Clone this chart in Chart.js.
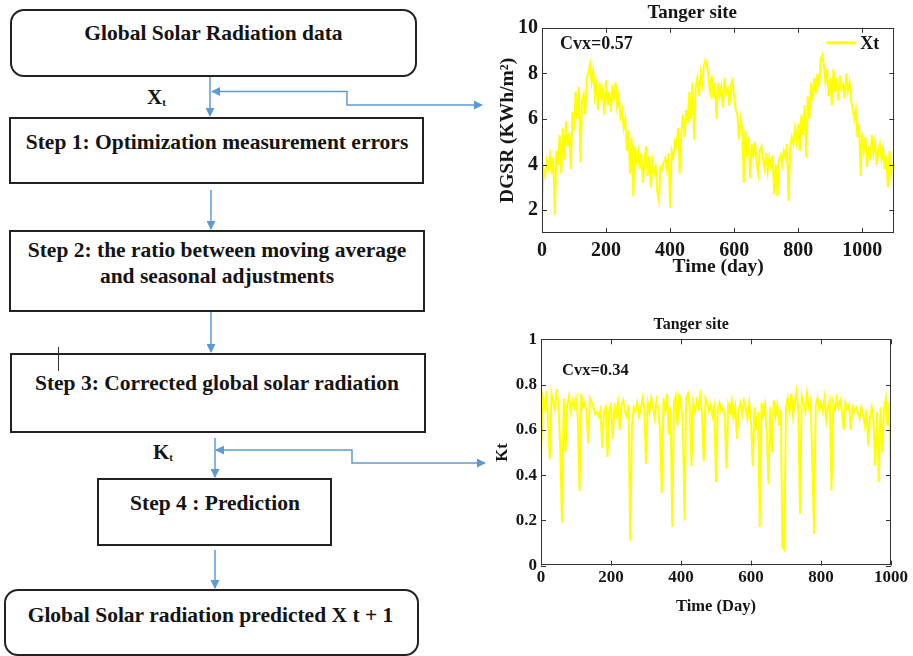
<!DOCTYPE html>
<html>
<head>
<meta charset="utf-8">
<script src="https://cdn.jsdelivr.net/npm/chart.js@4.4.1/dist/chart.umd.min.js"></script>
<style>
  html, body { margin: 0; padding: 0; background: #fff; }
  body {
    width: 913px; height: 656px; position: relative; overflow: hidden;
    font-family: "Liberation Serif", "Tinos", "DejaVu Serif Condensed", "DejaVu Serif", serif; font-weight: bold; color: #141414;
  }
  .box { position: absolute; border: 2px solid #222; box-sizing: border-box; }
  .round { border-radius: 14px; }
  .txt { position: absolute; text-align: center; font-size: 21.5px; line-height: 26px; white-space: nowrap; }
  .lbl { position: absolute; font-size: 21px; line-height: 24px; }
  .lbl sub { font-size: 11px; vertical-align: -2px; }
  .chart { position: absolute; }
  svg { position: absolute; left: 0; top: 0; }
</style>
</head>
<body>

<!-- flowchart boxes -->
<div class="box round" style="left:10px;top:9px;width:407px;height:68px"></div>
<div class="txt" style="left:10px;width:407px;top:20px">Global Solar Radiation data</div>

<div class="box" style="left:9px;top:117px;width:415px;height:67px"></div>
<div class="txt" style="left:9px;width:416px;top:129px">Step 1: Optimization measurement errors</div>

<div class="box" style="left:9px;top:230px;width:416px;height:82px"></div>
<div class="txt" style="left:9px;width:416px;top:237px">Step 2: the ratio between moving average<br>and seasonal adjustments</div>

<div class="box" style="left:10px;top:353px;width:416px;height:80px"></div>
<div class="txt" style="left:10px;width:414px;top:370px">Step 3: Corrected global solar radiation</div>
<div style="position:absolute;left:58px;top:347px;width:1px;height:24px;background:#333"></div>

<div class="box" style="left:97px;top:478px;width:235px;height:68px"></div>
<div class="txt" style="left:97px;width:236px;top:490px">Step 4 : Prediction</div>

<div class="box round" style="left:4px;top:589px;width:415px;height:67px"></div>
<div class="txt" style="left:4px;width:413px;top:602px">Global Solar radiation predicted X t + 1</div>

<div class="lbl" style="left:147px;top:85px">X<sub>t</sub></div>
<div class="lbl" style="left:153px;top:440px">K<sub>t</sub></div>

<svg width="913" height="656">
  <defs>
    <marker id="ah" viewBox="0 0 10 10" refX="9" refY="5" markerWidth="9" markerHeight="9"
            orient="auto-start-reverse" markerUnits="userSpaceOnUse">
      <path d="M0,0 L10,5 L0,10 z" fill="#5b9bd5"/>
    </marker>
  </defs>
  <g stroke="#5b9bd5" stroke-width="1.5" fill="none">
    <line x1="210" y1="77" x2="210" y2="116" marker-end="url(#ah)"/>
    <line x1="211" y1="190" x2="211" y2="229" marker-end="url(#ah)"/>
    <line x1="211" y1="312" x2="211" y2="352" marker-end="url(#ah)"/>
    <line x1="215" y1="438" x2="215" y2="477" marker-end="url(#ah)"/>
    <line x1="215" y1="550" x2="215" y2="588" marker-end="url(#ah)"/>
    <polyline points="212,91.5 347,91.5 347,105 482,105" marker-start="url(#ah)" marker-end="url(#ah)"/>
    <polyline points="216,450 352,450 352,463 485,463" marker-start="url(#ah)" marker-end="url(#ah)"/>
  </g>
</svg>

<div class="chart" style="left:490px;top:0;width:420px;height:290px"><canvas id="xtChart"></canvas></div>
<div class="chart" style="left:490px;top:310px;width:420px;height:310px"><canvas id="ktChart"></canvas></div>

<script>
// daily global solar radiation Xt (KWh/m2), read every 5 days from day 0
const xtValues = [
  2.2, 3.8, 3.5, 4.2, 3.9, 4.4, 3.6, 4.3, 1.8, 4.6,
  4.0, 5.3, 3.6, 5.6, 4.2, 5.9, 4.8, 5.4, 3.8, 6.3,
  5.5, 7.2, 6.0, 7.4, 4.1, 6.8, 7.1, 6.2, 7.8, 8.0,
  8.4, 7.6, 8.1, 7.0, 7.5, 6.4, 7.6, 6.9, 7.3, 6.2,
  7.7, 6.6, 7.2, 6.3, 7.5, 6.8, 7.6, 6.5, 7.0, 6.1,
  6.4, 5.6, 6.0, 4.6, 5.5, 3.6, 5.2, 2.6, 4.8, 4.2,
  4.6, 3.8, 4.5, 3.2, 4.2, 4.8, 3.5, 4.4, 3.0, 4.1,
  3.6, 3.9, 2.8, 2.4, 3.9, 3.8, 4.1, 4.3, 3.8, 4.5,
  2.1, 4.6, 4.3, 5.0, 4.8, 5.6, 3.6, 5.4, 6.2, 5.2,
  6.4, 5.8, 7.2, 6.0, 7.6, 5.1, 7.4, 7.8, 7.0, 8.0,
  7.5, 8.3, 8.6, 8.4, 7.8, 7.2, 7.9, 6.9, 7.6, 6.0,
  7.6, 7.0, 7.4, 6.5, 7.8, 7.1, 7.3, 6.6, 7.5, 7.7,
  7.0, 6.4, 6.2, 5.1, 6.0, 5.6, 3.2, 5.5, 4.3, 5.2,
  3.4, 4.9, 4.4, 5.0, 4.1, 3.6, 4.6, 4.8, 4.2, 3.8,
  4.5, 3.7, 4.3, 3.9, 4.4, 2.7, 4.0, 2.6, 4.2, 4.4,
  4.0, 4.6, 4.3, 4.9, 2.4, 4.8, 5.2, 4.9, 5.6, 5.0,
  5.8, 4.6, 6.2, 5.3, 6.6, 4.3, 7.0, 6.0, 7.6, 6.8,
  7.8, 7.1, 8.0, 7.4, 8.6, 8.8, 8.4, 7.6, 8.2, 7.0,
  7.8, 6.6, 8.2, 7.2, 7.8, 6.8, 7.9, 7.3, 7.5, 6.9,
  8.0, 7.2, 7.6, 6.8, 6.5, 6.0, 6.4, 5.2, 5.8, 3.5,
  5.4, 4.6, 5.2, 3.9, 4.8, 4.2, 5.3, 4.5, 5.0, 4.0,
  4.6, 4.9, 4.2, 4.7, 3.8, 4.4, 3.0, 4.6, 3.6, 4.0
];

// clearness index Kt, read every 5 days from day 0 to day 1000
const ktValues = [
  0.48, 0.74, 0.70, 0.77, 0.65, 0.47, 0.76, 0.72, 0.69, 0.78,
  0.70, 0.52, 0.19, 0.74, 0.50, 0.71, 0.75, 0.68, 0.73, 0.70,
  0.74, 0.66, 0.33, 0.76, 0.70, 0.72, 0.68, 0.54, 0.74, 0.72,
  0.70, 0.67, 0.68, 0.66, 0.69, 0.52, 0.68, 0.70, 0.48, 0.69,
  0.71, 0.56, 0.70, 0.67, 0.72, 0.60, 0.71, 0.73, 0.68, 0.66,
  0.71, 0.11, 0.62, 0.70, 0.68, 0.72, 0.66, 0.69, 0.74, 0.70,
  0.45, 0.72, 0.68, 0.74, 0.70, 0.65, 0.73, 0.69, 0.60, 0.32,
  0.74, 0.68, 0.76, 0.58, 0.70, 0.17, 0.72, 0.75, 0.62, 0.76,
  0.70, 0.66, 0.20, 0.74, 0.76, 0.70, 0.44, 0.72, 0.68, 0.73,
  0.70, 0.75, 0.67, 0.46, 0.74, 0.72, 0.68, 0.71, 0.66, 0.70,
  0.37, 0.69, 0.72, 0.68, 0.70, 0.66, 0.43, 0.71, 0.68, 0.73,
  0.65, 0.70, 0.56, 0.69, 0.72, 0.67, 0.73, 0.70, 0.65, 0.72,
  0.64, 0.44, 0.70, 0.60, 0.68, 0.17, 0.72, 0.66, 0.71, 0.58,
  0.36, 0.70, 0.50, 0.73, 0.66, 0.71, 0.62, 0.69, 0.08, 0.07,
  0.70, 0.74, 0.68, 0.76, 0.66, 0.72, 0.77, 0.70, 0.23, 0.75,
  0.72, 0.68, 0.76, 0.70, 0.73, 0.48, 0.14, 0.71, 0.74, 0.69,
  0.72, 0.68, 0.74, 0.64, 0.70, 0.73, 0.33, 0.72, 0.69, 0.74,
  0.70, 0.73, 0.68, 0.60, 0.72, 0.69, 0.71, 0.60, 0.70, 0.68,
  0.70, 0.68, 0.65, 0.70, 0.67, 0.62, 0.69, 0.53, 0.66, 0.70,
  0.64, 0.44, 0.68, 0.37, 0.70, 0.50, 0.69, 0.74, 0.62, 0.72,
  0.24
];

const dayStep = 5;
const xtXTicks = [0, 200, 400, 600, 800, 1000];
const xtYTicks = [2, 4, 6, 8, 10];
const ktXTicks = [0, 200, 400, 600, 800, 1000];
const ktYTicks = [0, 0.2, 0.4, 0.6, 0.8, 1];

const serif = '"Liberation Serif", "Tinos", "DejaVu Serif Condensed", "DejaVu Serif", serif';
const ink = '#161616';

// box around the plot with inward ticks, note text and line legend (matlab look)
const matlabAxes = {
  id: 'matlabAxes',
  afterDatasetsDraw(chart, args, opts) {
    const { ctx, chartArea: a, scales: { x, y } } = chart;
    ctx.save();
    ctx.strokeStyle = '#333';
    ctx.lineWidth = 1;
    ctx.strokeRect(Math.round(a.left) + 0.5, Math.round(a.top) + 0.5, Math.round(a.width) - 1, Math.round(a.height) - 1);
    ctx.beginPath();
    x.ticks.forEach(tk => {
      const px = Math.round(x.getPixelForValue(tk.value)) + 0.5;
      ctx.moveTo(px, a.bottom); ctx.lineTo(px, a.bottom - 5);
      ctx.moveTo(px, a.top); ctx.lineTo(px, a.top + 5);
    });
    y.ticks.forEach(tk => {
      const py = Math.round(y.getPixelForValue(tk.value)) + 0.5;
      ctx.moveTo(a.left, py); ctx.lineTo(a.left + 5, py);
      ctx.moveTo(a.right, py); ctx.lineTo(a.right - 5, py);
    });
    ctx.stroke();

    ctx.fillStyle = ink;
    ctx.textBaseline = 'middle';
    ctx.font = 'bold ' + opts.noteSize + 'px ' + serif;
    ctx.fillText(opts.note, a.left + opts.noteDx, a.top + opts.noteDy);

    if (opts.legend) {
      const ds = chart.data.datasets[0];
      const ly = a.top + 15;
      ctx.strokeStyle = ds.borderColor;
      ctx.lineWidth = 3;
      ctx.beginPath();
      ctx.moveTo(a.right - 68, ly); ctx.lineTo(a.right - 38, ly);
      ctx.stroke();
      ctx.font = 'bold 18px ' + serif;
      ctx.fillText(ds.label, a.right - 34, a.top + 17);
    }
    ctx.restore();
  }
};

const makeChart = (id, values, cfg) => {
  const points = values.map((v, i) => ({ x: i * dayStep, y: v }));
  return new Chart(document.getElementById(id), {
    type: 'line',
    data: {
      datasets: [{
        label: cfg.label,
        data: points,
        borderColor: '#ffff00',
        borderWidth: 2,
        pointRadius: 0,
        tension: 0,
        fill: false
      }]
    },
    options: {
      responsive: true,
      maintainAspectRatio: false,
      animation: false,
      layout: { padding: { left: 0, top: 0, right: cfg.padRight, bottom: 0 } },
      plugins: {
        legend: { display: false },
        tooltip: { enabled: false },
        title: {
          display: true,
          text: 'Tanger site',
          color: ink,
          font: { family: serif, size: cfg.titleSize, weight: 'bold' },
          padding: cfg.titlePad
        },
        matlabAxes: { note: cfg.note, noteSize: cfg.noteSize, noteDx: cfg.noteDx, noteDy: cfg.noteDy, legend: cfg.legend }
      },
      scales: {
        x: {
          type: 'linear',
          min: 0,
          max: cfg.xMax,
          grid: { display: false, drawTicks: false },
          border: { display: false },
          afterBuildTicks: (s) => { s.ticks = cfg.xTicks.map(v => ({ value: v })); },
          afterFit: (s) => { s.height = cfg.xHeight; },
          ticks: {
            color: ink,
            padding: cfg.xTickPad,
            maxRotation: 0,
            font: { family: serif, size: cfg.tickSize, weight: 'bold' },
            callback: (v) => String(v)
          },
          title: {
            display: true,
            text: cfg.xTitle,
            color: ink,
            font: { family: serif, size: cfg.axisTitleSize, weight: 'bold' },
            padding: { top: 0, bottom: cfg.xTitlePad }
          }
        },
        y: {
          min: cfg.yMin,
          max: cfg.yMax,
          grid: { display: false, drawTicks: false },
          border: { display: false },
          afterBuildTicks: (s) => { s.ticks = cfg.yTicks.map(v => ({ value: v })); },
          afterFit: (s) => { s.width = cfg.yWidth; },
          ticks: {
            color: ink,
            padding: 4,
            font: { family: serif, size: cfg.tickSize, weight: 'bold' },
            callback: (v) => String(v)
          },
          title: {
            display: true,
            text: cfg.yTitle,
            color: ink,
            font: { family: serif, size: cfg.axisTitleSize, weight: 'bold' },
            padding: { top: cfg.yTitlePad, bottom: 0 }
          }
        }
      }
    },
    plugins: [matlabAxes]
  });
};

makeChart('xtChart', xtValues, {
  label: 'Xt', note: 'Cvx=0.57', noteSize: 18, noteDx: 18, noteDy: 17, legend: true,
  titleSize: 19, titlePad: { top: 2, bottom: 3 },
  xMax: 1100, xTicks: xtXTicks, yMin: 1, yMax: 10, yTicks: xtYTicks,
  xTitle: 'Time (day)', yTitle: 'DGSR (KWh/m²)',
  tickSize: 20, axisTitleSize: 19.5, xTickPad: 6, xTitlePad: 11, yTitlePad: 6.5,
  xHeight: 57, yWidth: 52, padRight: 15.7
});

makeChart('ktChart', ktValues, {
  label: 'Kt', note: 'Cvx=0.34', noteSize: 16.5, noteDx: 21, noteDy: 31, legend: false,
  titleSize: 16, titlePad: { top: 5.4, bottom: 4.7 },
  xMax: 1000, xTicks: ktXTicks, yMin: 0, yMax: 1, yTicks: ktYTicks,
  xTitle: 'Time (Day)', yTitle: 'Kt',
  tickSize: 17, axisTitleSize: 16.5, xTickPad: 2, xTitlePad: 3, yTitlePad: 3,
  xHeight: 54.3, yWidth: 51, padRight: 17.7
});
</script>
</body>
</html>
